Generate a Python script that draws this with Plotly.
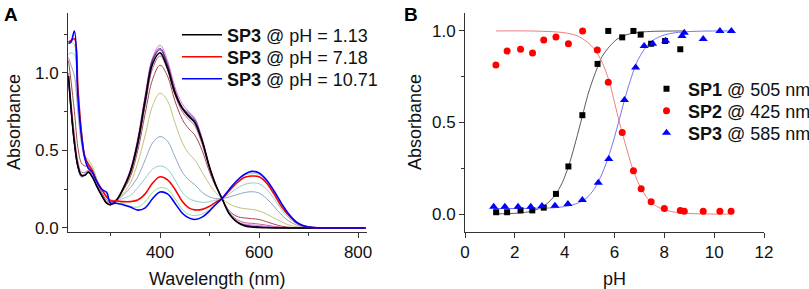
import plotly.graph_objects as go

# ---------------- Panel A: UV-vis spectra of SP3 ----------------
wavelength = [215, 220, 227, 234, 241, 248, 255, 263, 272, 282, 292, 300, 312, 325, 340, 355, 370, 385,
              400, 415, 430, 445, 458, 470, 485, 500, 512, 525, 540, 555, 570, 585, 600, 615, 630, 645,
              660, 675, 690, 710, 740, 780, 815]

spec_ph113 = [0.98, 0.78, 0.55, 0.40, 0.34, 0.34, 0.36, 0.33, 0.27, 0.21, 0.16, 0.15, 0.18, 0.25, 0.36, 0.55,
              0.82, 1.06, 1.13, 1.03, 0.87, 0.77, 0.72, 0.68, 0.56, 0.39, 0.28, 0.19, 0.09, 0.04, 0.015, 0.006,
              0.003, 0.001, 0, 0, 0, 0, 0, 0, 0, 0, 0]
spec_magenta = [0.95, 0.75, 0.53, 0.39, 0.34, 0.35, 0.37, 0.34, 0.28, 0.22, 0.17, 0.16, 0.185, 0.26, 0.38, 0.58,
                0.86, 1.10, 1.18, 1.08, 0.91, 0.80, 0.75, 0.71, 0.58, 0.40, 0.29, 0.19, 0.095, 0.045, 0.025, 0.02,
                0.015, 0.01, 0.006, 0.003, 0.001, 0, 0, 0, 0, 0, 0]
spec_purple = [0.96, 0.76, 0.54, 0.39, 0.33, 0.34, 0.36, 0.33, 0.27, 0.21, 0.16, 0.15, 0.18, 0.255, 0.37, 0.57,
               0.85, 1.09, 1.16, 1.06, 0.89, 0.78, 0.74, 0.70, 0.57, 0.39, 0.28, 0.19, 0.09, 0.04, 0.02, 0.012,
               0.008, 0.005, 0.003, 0.001, 0, 0, 0, 0, 0, 0, 0]
spec_navy = [0.97, 0.77, 0.54, 0.40, 0.34, 0.34, 0.36, 0.33, 0.27, 0.21, 0.16, 0.15, 0.18, 0.25, 0.365, 0.56,
             0.84, 1.08, 1.15, 1.05, 0.88, 0.775, 0.73, 0.69, 0.565, 0.39, 0.28, 0.19, 0.09, 0.04, 0.018, 0.01,
             0.006, 0.003, 0.002, 0.001, 0, 0, 0, 0, 0, 0, 0]
spec_mauve = [1.0, 0.82, 0.60, 0.43, 0.36, 0.36, 0.37, 0.34, 0.28, 0.22, 0.17, 0.16, 0.18, 0.25, 0.35, 0.53,
              0.79, 1.03, 1.11, 1.02, 0.86, 0.75, 0.70, 0.66, 0.54, 0.38, 0.28, 0.19, 0.10, 0.055, 0.035, 0.03,
              0.025, 0.018, 0.01, 0.005, 0.002, 0, 0, 0, 0, 0, 0]
spec_darkred = [1.08, 0.95, 0.75, 0.52, 0.42, 0.40, 0.40, 0.36, 0.30, 0.23, 0.18, 0.165, 0.18, 0.24, 0.33, 0.50,
                0.74, 0.96, 1.05, 0.98, 0.82, 0.70, 0.64, 0.60, 0.50, 0.36, 0.27, 0.19, 0.11, 0.075, 0.065, 0.06,
                0.055, 0.04, 0.025, 0.012, 0.005, 0.001, 0, 0, 0, 0, 0]
spec_olive = [1.20, 1.20, 1.18, 0.85, 0.58, 0.47, 0.44, 0.40, 0.32, 0.25, 0.20, 0.18, 0.18, 0.22, 0.29, 0.42,
              0.60, 0.79, 0.87, 0.82, 0.68, 0.55, 0.48, 0.44, 0.36, 0.28, 0.23, 0.19, 0.155, 0.135, 0.125, 0.12,
              0.11, 0.09, 0.065, 0.04, 0.02, 0.008, 0.002, 0, 0, 0, 0]
spec_greyblue = [1.10, 1.05, 0.98, 0.75, 0.55, 0.45, 0.42, 0.38, 0.31, 0.25, 0.20, 0.18, 0.18, 0.21, 0.26, 0.33,
                 0.44, 0.55, 0.59, 0.56, 0.46, 0.36, 0.31, 0.28, 0.23, 0.20, 0.19, 0.19, 0.20, 0.215, 0.228, 0.234,
                 0.225, 0.19, 0.14, 0.085, 0.045, 0.02, 0.006, 0.001, 0, 0, 0]
spec_teal = [1.12, 1.13, 1.12, 0.85, 0.60, 0.46, 0.42, 0.38, 0.31, 0.25, 0.20, 0.18, 0.178, 0.19, 0.21, 0.26,
             0.32, 0.38, 0.40, 0.38, 0.31, 0.23, 0.19, 0.175, 0.165, 0.17, 0.18, 0.19, 0.22, 0.255, 0.28, 0.29,
             0.285, 0.25, 0.19, 0.12, 0.065, 0.03, 0.01, 0.002, 0, 0, 0]
spec_ph718 = [1.20, 1.21, 1.22, 0.90, 0.62, 0.46, 0.41, 0.37, 0.30, 0.25, 0.20, 0.175, 0.175, 0.17, 0.17, 0.18,
              0.22, 0.29, 0.33, 0.31, 0.25, 0.17, 0.13, 0.117, 0.12, 0.14, 0.165, 0.19, 0.24, 0.29, 0.325, 0.335,
              0.33, 0.29, 0.22, 0.14, 0.08, 0.035, 0.012, 0.002, 0, 0, 0]
spec_green = [1.20, 1.21, 1.22, 0.92, 0.64, 0.47, 0.41, 0.37, 0.30, 0.25, 0.20, 0.17, 0.172, 0.16, 0.14, 0.135,
              0.17, 0.23, 0.26, 0.25, 0.19, 0.12, 0.088, 0.08, 0.09, 0.12, 0.155, 0.19, 0.25, 0.30, 0.34, 0.35,
              0.345, 0.30, 0.23, 0.15, 0.085, 0.04, 0.013, 0.002, 0, 0, 0]
spec_ph1071 = [1.19, 1.20, 1.27, 0.85, 0.60, 0.45, 0.385, 0.36, 0.30, 0.25, 0.23, 0.16, 0.16, 0.15, 0.135, 0.115,
               0.13, 0.19, 0.232, 0.22, 0.16, 0.095, 0.065, 0.055, 0.07, 0.11, 0.15, 0.19, 0.25, 0.305, 0.345,
               0.365, 0.355, 0.31, 0.24, 0.16, 0.09, 0.04, 0.014, 0.002, 0, 0, 0]

legend_a = ["<b>SP3</b> @ pH = 1.13", "<b>SP3</b> @ pH = 7.18", "<b>SP3</b> @ pH = 10.71"]

# ---------------- Panel B: titration points ----------------
ph_sp1 = [1.25, 1.69, 2.23, 2.70, 3.16, 3.65, 4.15, 4.71, 5.32, 5.75, 6.31, 6.76, 7.05, 7.47, 8.03, 8.64]
abs_sp1 = [0.01, 0.01, 0.02, 0.02, 0.035, 0.11, 0.26, 0.54, 0.82, 1.0, 0.965, 1.0, 0.98, 0.93, 0.945, 0.90]

ph_sp2 = [1.24, 1.69, 2.23, 2.71, 3.16, 3.65, 4.15, 4.72, 5.31, 5.75, 6.31, 6.76, 7.07, 7.47, 8.0, 8.64,
          8.80, 9.56, 10.23, 10.68]
abs_sp2 = [0.814, 0.89, 0.90, 0.88, 0.95, 0.967, 0.93, 1.0, 0.896, 0.72, 0.446, 0.237, 0.138, 0.067, 0.031,
           0.02, 0.016, 0.016, 0.016, 0.016]

ph_sp3 = [1.15, 1.60, 2.13, 2.64, 3.09, 3.61, 4.13, 4.71, 5.35, 5.77, 6.40, 6.85, 7.19, 7.53, 8.05, 8.71,
          8.80, 9.56, 10.23, 10.69]
abs_sp3 = [0.04, 0.04, 0.04, 0.04, 0.044, 0.045, 0.055, 0.077, 0.171, 0.30, 0.623, 0.80, 0.918, 0.93, 0.947,
           0.973, 0.99, 0.956, 1.0, 1.0]

# fitted curves
fit1_ph = [1.25, 2.0, 2.5, 3.0, 3.3, 3.6, 3.9, 4.2, 4.45, 4.7, 4.95, 5.2, 5.5, 5.8, 6.1, 6.5, 7.0, 7.6, 8.8]
fit1_abs = [0.001, 0.004, 0.011, 0.031, 0.058, 0.10, 0.17, 0.28, 0.40, 0.53, 0.66, 0.76, 0.86, 0.915, 0.955,
            0.98, 0.993, 0.998, 1.0]
fit2_ph = [1.24, 2.5, 3.5, 4.0, 4.5, 4.9, 5.2, 5.5, 5.8, 6.0, 6.2, 6.4, 6.7, 7.0, 7.3, 7.6, 8.0, 8.5, 9.2, 10.0, 10.7]
fit2_abs = [1.0, 1.0, 0.996, 0.99, 0.974, 0.94, 0.90, 0.83, 0.72, 0.61, 0.50, 0.40, 0.26, 0.157, 0.09, 0.05,
            0.023, 0.009, 0.002, 0.0, 0.0]
fit3_ph = [1.15, 2.5, 3.5, 4.0, 4.5, 4.9, 5.2, 5.5, 5.8, 6.0, 6.2, 6.5, 6.9, 7.2, 7.5, 7.8, 8.2, 8.7, 9.5, 10.7]
fit3_abs = [0.03, 0.031, 0.034, 0.041, 0.058, 0.09, 0.14, 0.22, 0.33, 0.42, 0.52, 0.67, 0.83, 0.90, 0.945, 0.968,
            0.985, 0.994, 0.999, 1.0]
legend_b = ["<b>SP1</b> @ 505 nm", "<b>SP2</b> @ 425 nm", "<b>SP3</b> @ 585 nm"]

FONT = "Arial, Liberation Sans, sans-serif"
W, H = 809, 289
fig = go.Figure()

thin = [
    (spec_darkred, "#a34a4a"),
    (spec_mauve, "#c0608f"),
    (spec_olive, "#c2c27a"),
    (spec_greyblue, "#8ea6c4"),
    (spec_teal, "#8fcfcf"),
    (spec_green, "#8ee08e"),
    (spec_magenta, "#e673e6"),
    (spec_purple, "#7a2a9a"),
    (spec_navy, "#2a2a80"),
]
for ys, col in thin:
    fig.add_trace(go.Scatter(x=wavelength, y=ys, mode="lines", line=dict(color=col, width=1, shape="spline"),
                             showlegend=False, hoverinfo="skip", xaxis="x", yaxis="y"))

legend_ids_a = ["legend", "legend3", "legend4"]
for ys, col, name, lg in [(spec_ph113, "#000000", legend_a[0], legend_ids_a[0]),
                          (spec_ph718, "#ff0000", legend_a[1], legend_ids_a[1]),
                          (spec_ph1071, "#0000ff", legend_a[2], legend_ids_a[2])]:
    fig.add_trace(go.Scatter(x=wavelength, y=ys, mode="lines", name=name,
                             line=dict(color=col, width=1.6, shape="spline"),
                             legend=lg, xaxis="x", yaxis="y"))

# Panel B fits
for fx, fy, col in [(fit1_ph, fit1_abs, "#5a5a5a"), (fit2_ph, fit2_abs, "#f27c7c"), (fit3_ph, fit3_abs, "#7575f0")]:
    fig.add_trace(go.Scatter(x=fx, y=fy, mode="lines", line=dict(color=col, width=1, shape="spline", smoothing=0.8),
                             showlegend=False, hoverinfo="skip", xaxis="x2", yaxis="y2"))

legend_ids_b = ["legend2", "legend5", "legend6"]
for px, py, sym, col, size, name, lg in [(ph_sp1, abs_sp1, "square", "#000000", 6, legend_b[0], legend_ids_b[0]),
                                          (ph_sp2, abs_sp2, "circle", "#ff0000", 7, legend_b[1], legend_ids_b[1]),
                                          (ph_sp3, abs_sp3, "triangle-up", "#0000ff", 8, legend_b[2], legend_ids_b[2])]:
    fig.add_trace(go.Scatter(x=px, y=py, mode="markers", name=name,
                             marker=dict(symbol=sym, color=col, size=size, line=dict(width=0)),
                             legend=lg, xaxis="x2", yaxis="y2"))

axis_common = dict(showline=True, linecolor="#333333", linewidth=1, ticks="outside", ticklen=5, tickwidth=1,
                   tickcolor="#333333", showgrid=False, zeroline=False, mirror=False, automargin=False,
                   tickfont=dict(family=FONT, size=17, color="#111111"))
title_font = dict(family=FONT, size=18, color="#111111")
legend_font = dict(family=FONT, size=18, color="#111111")


def ann(text, xp, yp, angle=0):
    return dict(text=text, x=xp / W, y=1 - yp / H, xref="paper", yref="paper", xanchor="center",
                yanchor="middle", showarrow=False, textangle=angle, font=title_font)


def leg(xp, yp, iw=None):
    d = dict(x=xp / W, y=1 - yp / H, xanchor="left", yanchor="middle", bgcolor="rgba(0,0,0,0)",
             font=legend_font, borderwidth=0)
    if iw:
        d["itemwidth"] = iw
    return d


fig.update_layout(
    template="none",
    width=W, height=H, margin=dict(l=0, r=0, t=0, b=0, autoexpand=False),
    paper_bgcolor="white", plot_bgcolor="white",
    xaxis=dict(domain=[68 / W, 367 / W], range=[214, 818], tickvals=[400, 600, 800],
               minor=dict(tickvals=[300, 500, 700], ticks="outside", ticklen=3, tickcolor="#333333"),
               anchor="y", **axis_common),
    yaxis=dict(domain=[1 - 232 / H, 1 - 13 / H], range=[-0.026, 1.387], tickvals=[0, 0.5, 1.0],
               ticktext=["0.0", "0.5", "1.0"],
               minor=dict(tickvals=[0.25, 0.75, 1.25], ticks="outside", ticklen=3, tickcolor="#333333"),
               anchor="x", **axis_common),
    xaxis2=dict(domain=[465 / W, 764 / W], range=[0, 12], tickvals=[0, 2, 4, 6, 8, 10, 12],
                anchor="y2", **axis_common),
    yaxis2=dict(domain=[1 - 232 / H, 1 - 13 / H], range=[-0.098, 1.098], tickvals=[0, 0.5, 1.0],
                ticktext=["0.0", "0.5", "1.0"],
                minor=dict(tickvals=[0.25, 0.75], ticks="outside", ticklen=3, tickcolor="#333333"),
                anchor="x2", **axis_common),
    legend=leg(177, 35, 40),
    legend3=leg(177, 57, 40),
    legend4=leg(177, 79, 40),
    legend2=leg(645, 89, 33),
    legend5=leg(645, 111, 33),
    legend6=leg(645, 133, 33),
    annotations=[
        dict(text="<b>A</b>", x=2 / W, y=1 - 2 / H, xref="paper", yref="paper", xanchor="left",
             yanchor="top", showarrow=False, font=dict(family=FONT, size=19, color="#000000")),
        dict(text="<b>B</b>", x=402 / W, y=1 - 2 / H, xref="paper", yref="paper", xanchor="left",
             yanchor="top", showarrow=False, font=dict(family=FONT, size=19, color="#000000")),
        ann("Wavelength (nm)", 217, 279),
        ann("pH", 614.5, 279),
        ann("Absorbance", 14, 122, -90),
        ann("Absorbance", 415, 122, -90),
    ],
)

fig.write_html("out.html", config={"displayModeBar": False},
               post_script="document.body.style.margin='0';document.body.style.overflow='hidden';")
